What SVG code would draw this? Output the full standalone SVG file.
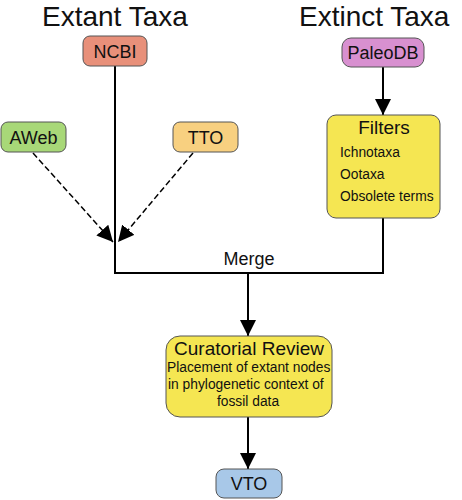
<svg xmlns="http://www.w3.org/2000/svg" width="462" height="500" viewBox="0 0 462 500">
<style>
text{font-family:"Liberation Sans",Arial,sans-serif;fill:#111}
.hdr{font-size:28px}
.lbl{font-size:18px;text-anchor:middle}
.ttl{font-size:19px;text-anchor:middle}
.sm{font-size:13.8px}
.box{stroke:#555;stroke-width:1}
.ln{stroke:#000;stroke-width:2;fill:none}
.dash{stroke:#000;stroke-width:1.5;fill:none;stroke-dasharray:6,3}
</style>
<defs>
<marker id="ahb" viewBox="0 0 10 10" refX="10" refY="5" markerWidth="16" markerHeight="16" markerUnits="userSpaceOnUse" orient="auto">
<path d="M0,0 L10,5 L0,10 z" fill="#000"/>
</marker>
</defs>
<text class="hdr" x="42" y="26">Extant Taxa</text>
<text class="hdr" x="299" y="26">Extinct Taxa</text>
<g id="connectors">
<line class="ln" x1="115" y1="66" x2="115" y2="273"/>
<polyline class="ln" points="114,273 383,273 383,218"/>
<line class="ln" x1="383" y1="67" x2="383" y2="115" marker-end="url(#ahb)"/>
<line class="ln" x1="248" y1="273" x2="248" y2="336" marker-end="url(#ahb)"/>
<line class="ln" x1="248" y1="417" x2="248" y2="469" marker-end="url(#ahb)"/>
<line class="dash" x1="33" y1="153" x2="113" y2="242" marker-end="url(#ahb)"/>
<line class="dash" x1="193" y1="153" x2="118" y2="242" marker-end="url(#ahb)"/>
<text x="249" y="265" style="font-size:18px;text-anchor:middle">Merge</text>
</g>
<g id="ncbi">
<rect class="box" x="83" y="36" width="64" height="30" rx="7" fill="#E8907A"/>
<text class="lbl" x="115" y="58">NCBI</text>
</g>
<g id="aweb">
<rect class="box" x="1" y="122" width="65" height="30" rx="7" fill="#A8D878"/>
<text class="lbl" x="33.5" y="144">AWeb</text>
</g>
<g id="tto">
<rect class="box" x="173" y="122" width="65" height="30" rx="7" fill="#F8D080"/>
<text class="lbl" x="205.5" y="144">TTO</text>
</g>
<g id="paleodb">
<rect class="box" x="342" y="38" width="82" height="29" rx="9" fill="#D890D0"/>
<text class="lbl" x="383" y="59">PaleoDB</text>
</g>
<g id="filters">
<rect class="box" x="327" y="115" width="113" height="103" rx="9" fill="#F5E652"/>
<text class="ttl" x="384" y="134">Filters</text>
<text class="sm" x="340" y="157">Ichnotaxa</text>
<text class="sm" x="340" y="179">Ootaxa</text>
<text class="sm" x="340" y="201">Obsolete terms</text>
</g>
<g id="curatorial">
<rect class="box" x="166" y="336" width="166" height="81" rx="14" fill="#F5E652"/>
<text class="ttl" x="249" y="355">Curatorial Review</text>
<text class="sm" x="167" y="372">Placement of extant nodes</text>
<text class="sm" x="168" y="389">in phylogenetic context of</text>
<text class="sm" x="248" y="406" text-anchor="middle">fossil data</text>
</g>
<g id="vto">
<rect class="box" x="216" y="469" width="66" height="29" rx="8" fill="#A8C8E8"/>
<text class="lbl" x="249" y="490">VTO</text>
</g>
</svg>
